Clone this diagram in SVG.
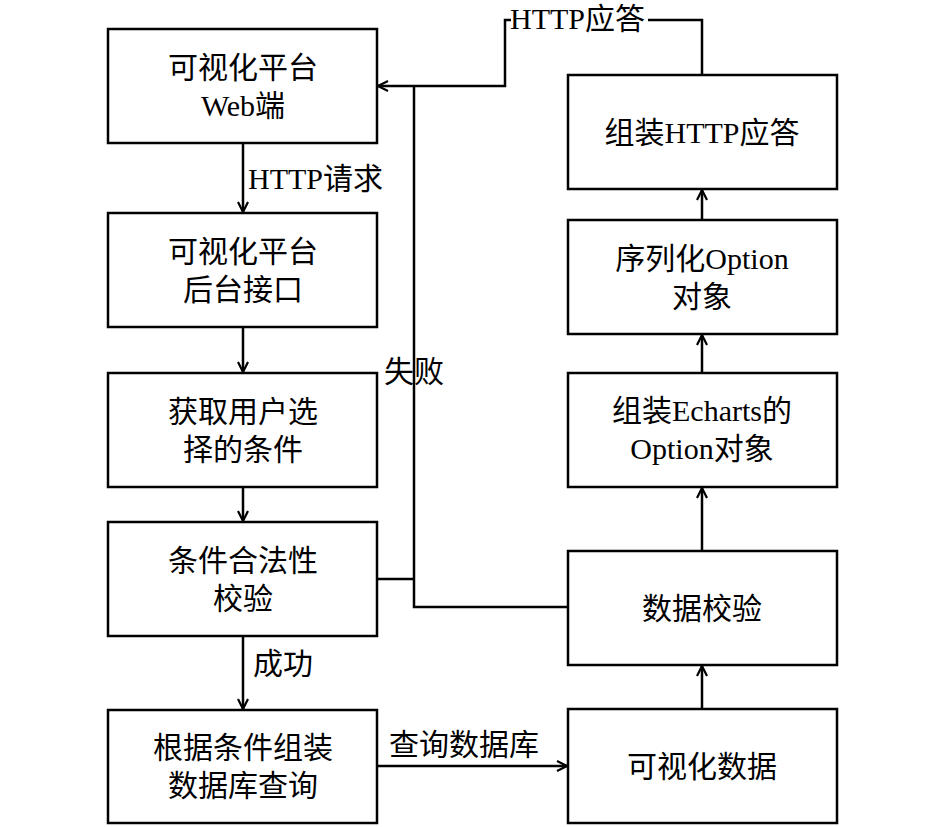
<svg xmlns="http://www.w3.org/2000/svg" width="945" height="827" viewBox="0 0 945 827">
<style>
.box{fill:#fff;stroke:#000;stroke-width:2.5}
.ln{fill:none;stroke:#000;stroke-width:2.5}
text{font-family:"Liberation Serif","Noto Sans CJK SC",serif;font-size:30px;fill:#000}
.c{text-anchor:middle}
</style>
<defs>
<marker id="arr" viewBox="0 0 12 12" refX="11" refY="6" markerWidth="12" markerHeight="12" markerUnits="userSpaceOnUse" orient="auto">
<path d="M1,1 L11,6 L1,11" fill="none" stroke="#000" stroke-width="2.2"/>
</marker>
</defs>
<rect width="945" height="827" fill="#fff"/>
<g id="connectors">
<line class="ln" x1="243" y1="143" x2="243" y2="212" marker-end="url(#arr)"/>
<line class="ln" x1="243" y1="327" x2="243" y2="372" marker-end="url(#arr)"/>
<line class="ln" x1="243" y1="487" x2="243" y2="521" marker-end="url(#arr)"/>
<line class="ln" x1="243" y1="636" x2="243" y2="709" marker-end="url(#arr)"/>
<line class="ln" x1="377" y1="766" x2="567" y2="766" marker-end="url(#arr)"/>
<line class="ln" x1="702" y1="709" x2="702" y2="666" marker-end="url(#arr)"/>
<line class="ln" x1="702" y1="551" x2="702" y2="488" marker-end="url(#arr)"/>
<line class="ln" x1="702" y1="373" x2="702" y2="335" marker-end="url(#arr)"/>
<line class="ln" x1="702" y1="220" x2="702" y2="190" marker-end="url(#arr)"/>
<polyline class="ln" points="377,579 414,579"/>
<polyline class="ln" points="568,607 414,607 414,86"/>
<polyline class="ln" points="702,75 702,20 648,20"/>
<polyline class="ln" points="511,20 505,20 505,86 378,86" marker-end="url(#arr)"/>
<text x="510" y="29">HTTP应答</text>
<text x="248" y="189">HTTP请求</text>
<text x="384" y="382">失败</text>
<text x="253" y="674">成功</text>
<text x="389" y="755">查询数据库</text>
</g>
<g id="n1"><rect class="box" x="108" y="29" width="269" height="114"/><text class="c" x="243" y="78">可视化平台</text><text class="c" x="243" y="116">Web端</text></g>
<g id="n2"><rect class="box" x="108" y="213" width="269" height="114"/><text class="c" x="243" y="262">可视化平台</text><text class="c" x="243" y="300">后台接口</text></g>
<g id="n3"><rect class="box" x="108" y="373" width="269" height="114"/><text class="c" x="243" y="422">获取用户选</text><text class="c" x="243" y="460">择的条件</text></g>
<g id="n4"><rect class="box" x="108" y="522" width="269" height="114"/><text class="c" x="243" y="571">条件合法性</text><text class="c" x="243" y="609">校验</text></g>
<g id="n5"><rect class="box" x="108" y="710" width="269" height="113"/><text class="c" x="243" y="758">根据条件组装</text><text class="c" x="243" y="796">数据库查询</text></g>
<g id="n6"><rect class="box" x="568" y="75" width="269" height="114"/><text class="c" x="702" y="143">组装HTTP应答</text></g>
<g id="n7"><rect class="box" x="568" y="220" width="269" height="114"/><text class="c" x="702" y="269">序列化Option</text><text class="c" x="702" y="307">对象</text></g>
<g id="n8"><rect class="box" x="568" y="373" width="269" height="114"/><text class="c" x="702" y="421">组装Echarts的</text><text class="c" x="702" y="459">Option对象</text></g>
<g id="n9"><rect class="box" x="568" y="551" width="269" height="114"/><text class="c" x="702" y="619">数据校验</text></g>
<g id="n10"><rect class="box" x="568" y="709" width="269" height="114"/><text class="c" x="702" y="777">可视化数据</text></g>
</svg>
